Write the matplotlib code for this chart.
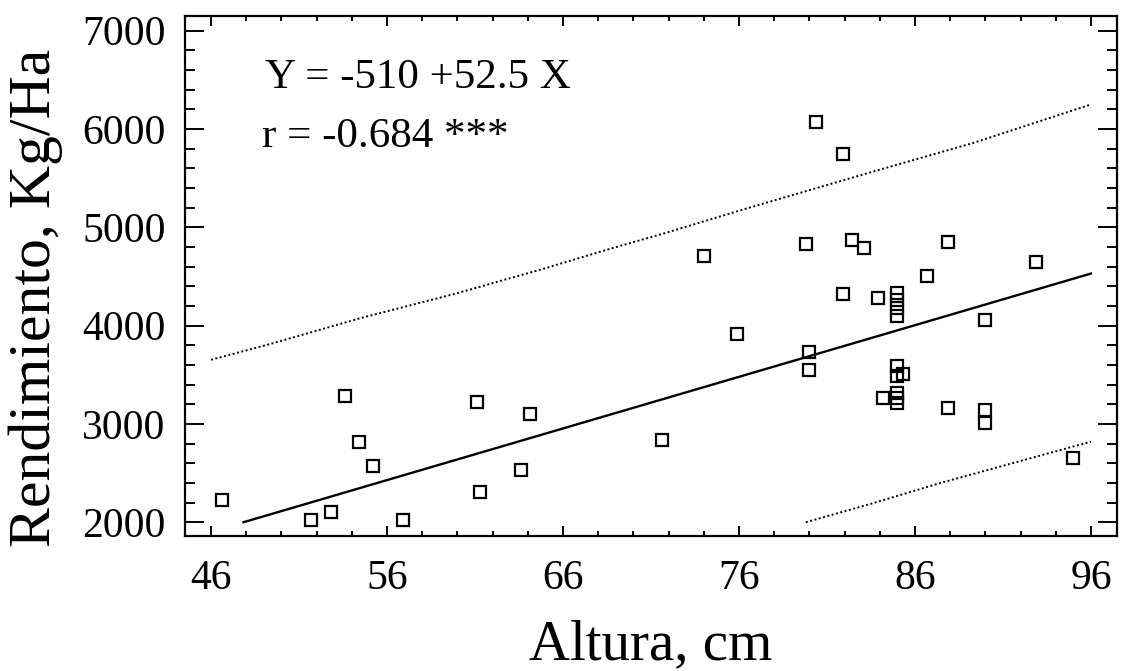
import matplotlib
matplotlib.use("Agg")
import matplotlib.pyplot as plt
from matplotlib.ticker import MultipleLocator

plt.rcParams['font.family'] = ['Liberation Serif', 'DejaVu Serif']

# datos
altura = [46.6, 51.7, 52.8, 53.6, 54.4, 55.2, 56.9, 61.1, 61.3, 63.6, 64.1,
          71.6, 74.0, 75.9, 80.0, 80.0, 79.8, 80.4, 81.9, 81.9, 82.4, 83.1,
          83.9, 84.2, 85.0, 85.0, 85.0, 85.0, 85.0, 85.0, 85.3, 85.0, 85.0,
          85.0, 86.7, 87.9, 87.9, 90.0, 90.0, 90.0, 92.9, 95.0]
rendimiento = [2227, 2023, 2108, 3286, 2815, 2577, 2023, 3221, 2308, 2532, 3102,
               2838, 4711, 3917, 3731, 3550, 4833, 6072, 5746, 4324, 4871, 4793,
               4280, 3262, 4331, 4263, 4178, 4093, 3591, 3489, 3510, 3313, 3262,
               3211, 4508, 4850, 3160, 4059, 3143, 3008, 4647, 2651]

# recta de regresion (extremos)
reg_x = [47.84, 96.0]
reg_y = [2000, 4530]

# bandas (punteadas)
sup_x = [46.0, 49.4, 54.5, 59.8, 64.9, 68.3, 71.8, 76.3, 84.0, 89.3, 96.0]
sup_y = [3653, 3815, 4077, 4321, 4579, 4762, 4942, 5185, 5587, 5858, 6250]
inf_x = [79.8, 83.6, 87.4, 96.0]
inf_y = [2000, 2193, 2397, 2820]

W, H = 1122, 671
fig = plt.figure(figsize=(W / 100, H / 100), dpi=100)
ax = fig.add_axes([185 / W, 1 - 536 / H, 932 / W, 520 / H])

ax.plot(altura, rendimiento, linestyle='none', marker='s', markersize=9,
        markerfacecolor='none', markeredgecolor='black', markeredgewidth=1.6)
ax.plot(reg_x, reg_y, color='black', lw=1.7)
ax.plot(sup_x, sup_y, color='black', lw=1.4, linestyle=(0, (1, 1.3)))
ax.plot(inf_x, inf_y, color='black', lw=1.4, linestyle=(0, (1, 1.3)))

ax.set_xlim(44.52, 97.48)
ax.set_ylim(1860, 7150)
ax.set_xticks([46, 56, 66, 76, 86, 96])
ax.set_yticks([2000, 3000, 4000, 5000, 6000, 7000])
ax.xaxis.set_minor_locator(MultipleLocator(2))
ax.yaxis.set_minor_locator(MultipleLocator(200))

for s in ax.spines.values():
    s.set_linewidth(1.6)

ax.tick_params(axis='both', which='both', direction='in', top=True, right=True,
               width=1.4, labelsize=30)
ax.tick_params(axis='x', which='major', length=7.2, pad=17)
ax.tick_params(axis='x', which='minor', length=3.6)
ax.tick_params(axis='y', which='major', length=13.7, pad=14)
ax.tick_params(axis='y', which='minor', length=7.2)

fig.text(265 / W, 1 - 88 / H, 'Y = -510 +52.5 X', fontsize=31, va='baseline')
fig.text(262 / W, 1 - 147 / H, 'r = -0.684 ***', fontsize=31, va='baseline')

fig.text(651 / W, 1 - 659 / H, 'Altura, cm', fontsize=41, ha='center', va='baseline')
fig.text(50 / W, 1 - 298 / H, 'Rendimiento, Kg/Ha', fontsize=43, rotation=90,
         rotation_mode='anchor', ha='center', va='baseline')

fig.savefig('out.png', dpi=100)
